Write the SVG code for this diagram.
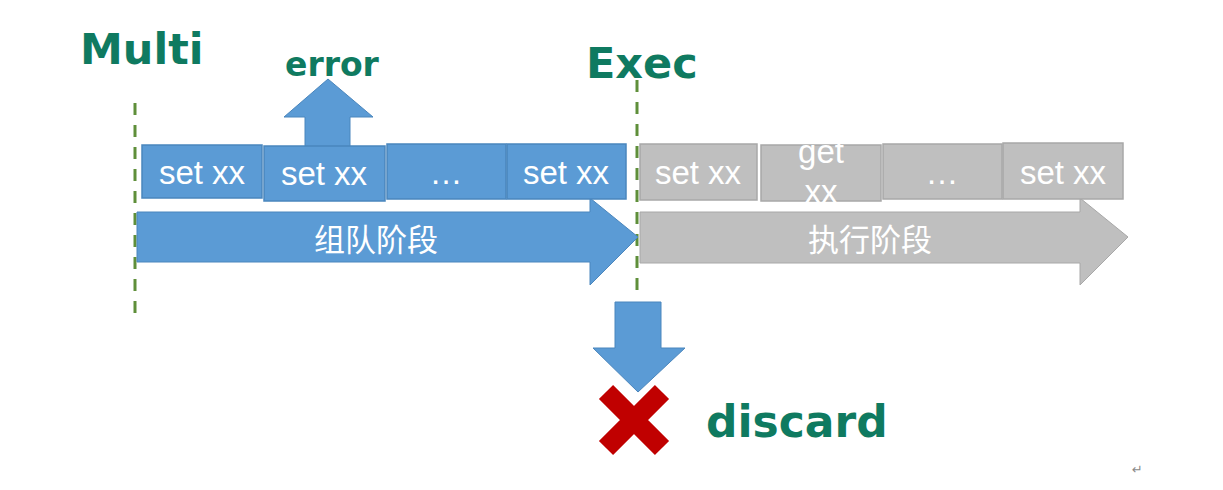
<svg xmlns="http://www.w3.org/2000/svg" width="1223" height="490" viewBox="0 0 1223 490">
<style>
.lbl{font-family:"DejaVu Sans",Verdana,sans-serif;font-weight:bold;fill:#0f7a60}
.bx{fill:#5b9bd5;stroke:#4a86bd;stroke-width:1.5}
.gb{fill:#bfbfbf;stroke:#a8a8a8;stroke-width:1.5}
.bt{font-family:"Liberation Sans",Arial,sans-serif;font-size:33px;fill:#ffffff;text-anchor:middle}
.ct{font-family:"Noto Sans CJK SC","Liberation Sans",sans-serif;font-size:31px;fill:#ffffff;text-anchor:middle}
.dash{stroke:#5f8f3a;stroke-width:3;stroke-dasharray:12 10;fill:none}
.blue{fill:#5b9bd5;stroke:#4a86bd;stroke-width:1}
.gray{fill:#bfbfbf;stroke:#a8a8a8;stroke-width:1}
</style>
<rect width="1223" height="490" fill="#ffffff"/>
<g id="connectors">
<line class="dash" x1="135" y1="103" x2="135" y2="320"/>
<line class="dash" x1="637" y1="80" x2="637" y2="296"/>
<polygon id="error-arrow" class="blue" points="328,79 373,117 350,117 350,150 305,150 305,117 284,117"/>
</g>
<g id="label-multi"><text class="lbl" x="80" y="64" font-size="43">Multi</text></g>
<g id="label-error"><text class="lbl" x="285" y="76" font-size="33">error</text></g>
<g id="label-exec"><text class="lbl" x="586" y="78" font-size="43">Exec</text></g>
<g id="phase-queue">
<polygon class="blue" points="137,212 590,212 590,198 638,237 590,285 590,262 137,262"/>
<text class="ct" x="376" y="251">组队阶段</text>
</g>
<g id="phase-exec">
<polygon class="gray" points="640,212 1080,212 1080,198 1128,237 1080,285 1080,263 640,263"/>
<text class="ct" x="870" y="251">执行阶段</text>
</g>
<g id="q1"><rect class="bx" x="142" y="145" width="120" height="53"/><text class="bt" x="202" y="184">set xx</text></g>
<g id="q2"><rect class="bx" x="264" y="146" width="121" height="55"/><text class="bt" x="324" y="185">set xx</text></g>
<g id="q3"><rect class="bx" x="387" y="144" width="119" height="55"/><text class="bt" x="446" y="184">…</text></g>
<g id="q4"><rect class="bx" x="507" y="144" width="119" height="55"/><text class="bt" x="566" y="184">set xx</text></g>
<g id="e1"><rect class="gb" x="640" y="144" width="117" height="56"/><text class="bt" x="698" y="184">set xx</text></g>
<g id="e2"><rect class="gb" x="761" y="145" width="120" height="56"/><text class="bt" x="821" y="163" font-size="30">get</text><text class="bt" x="821" y="203" font-size="30">xx</text></g>
<g id="e3"><rect class="gb" x="883" y="144" width="119" height="55"/><text class="bt" x="942" y="184">…</text></g>
<g id="e4"><rect class="gb" x="1003" y="143" width="120" height="56"/><text class="bt" x="1063" y="184">set xx</text></g>
<g id="discard">
<path d="M606,392 L662,448 M662,392 L606,448" stroke="#c00000" stroke-width="20" fill="none"/>
<polygon id="discard-arrow" class="blue" points="615,302 661,302 661,348 685,348 638,392 593,348 615,348"/>
<text class="lbl" x="706" y="437" font-size="44">discard</text>
</g>
<text x="1132" y="474" font-family="DejaVu Sans,sans-serif" font-size="13" fill="#8a8a8a">↵</text>
</svg>
